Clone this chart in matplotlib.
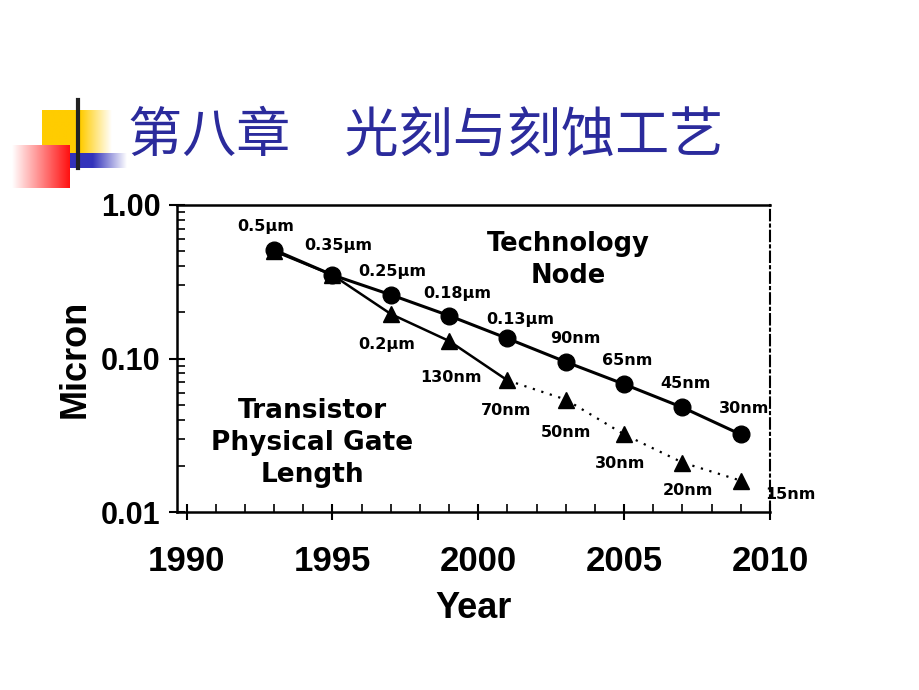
import matplotlib
matplotlib.use("Agg")
import matplotlib.pyplot as plt
import numpy as np
from matplotlib.ticker import FixedLocator, NullFormatter

years = [1993, 1995, 1997, 1999, 2001, 2003, 2005, 2007, 2009]
node_um = [0.51, 0.35, 0.26, 0.19, 0.135, 0.095, 0.068, 0.048, 0.032]
node_labels = ["0.5μm", "0.35μm", "0.25μm", "0.18μm", "0.13μm",
               "90nm", "65nm", "45nm", "30nm"]

gate_years = [1993, 1995, 1997, 1999, 2001, 2003, 2005, 2007, 2009]
gate_um = [0.5, 0.35, 0.195, 0.13, 0.072, 0.054, 0.032, 0.021, 0.016]
gate_labels = ["", "", "0.2μm", "130nm", "70nm", "50nm", "30nm", "20nm", "15nm"]

# label offsets in points (dx, dy)
node_off = [(-6, 17), (4, 21), (1, 17), (6, 16), (9, 14), (7, 17), (2, 17), (2, 17), (2, 19)]
gate_off = [(0, 0), (0, 0), (-3, -22), (1, -26), (-1, -22), (0, -24), (-3, -21), (4, -20), (36, -10)]

BLUE = "#2b2b9c"

fig = plt.figure(figsize=(9.2, 6.9), dpi=100)

# ---- decoration in pixel coordinates
deco = fig.add_axes([0, 0, 1, 1])
deco.axis("off")


def gradient(ax, x0, x1, y0, y1, c_solid, solid_side, solid_frac):
    n = 200
    t = np.linspace(0, 1, n)
    if solid_side == "right":
        t = t[::-1]
    a = np.clip((t - solid_frac) / (1 - solid_frac), 0, 1)
    rgb = np.array(matplotlib.colors.to_rgb(c_solid))
    img = rgb[None, :] * (1 - a[:, None]) + a[:, None]
    img = np.repeat(img[None, :, :], 2, axis=0)
    ax.imshow(img, extent=(x0, x1, y1, y0), aspect="auto", zorder=1)


gradient(deco, 42, 112, 110, 153, "#ffcc00", "left", 0.55)
gradient(deco, 12, 70, 145, 188, "#ff1010", "right", 0.0)
gradient(deco, 70, 127, 153, 168, "#3333bb", "left", 0.4)
deco.plot([78, 78], [100, 168], color="#222222", lw=3, zorder=3)
deco.set_xlim(0, 920)
deco.set_ylim(690, 0)

fig.text(128, 690 - 136, "第八章\u3000光刻与刻蚀工艺", transform=None,
         fontsize=39, color=BLUE, va="center", ha="left",
         family=["Noto Sans CJK SC", "DejaVu Sans"])

# ---- chart
ax = fig.add_axes([177 / 920, 178 / 690, 593 / 920, 307 / 690])
ax.set_yscale("log")
ax.set_ylim(0.01, 1.0)
ax.set_xlim(1989.67, 2010)

ax.plot(years, node_um, color="black", lw=2.2, marker="o", ms=12, zorder=3)
ax.plot(gate_years[:5], gate_um[:5], color="black", lw=1.8, zorder=2)
ax.plot(gate_years[4:], gate_um[4:], color="black", lw=1.6, ls=(0, (1, 3)), zorder=2)
ax.plot(gate_years, gate_um, ls="none", color="black", marker="^", ms=12, zorder=4)

lab_font = dict(fontsize=11.5, fontweight="bold", family="DejaVu Sans")
for x, y, t, (dx, dy) in zip(years, node_um, node_labels, node_off):
    ax.annotate(t, (x, y), xytext=(dx, dy), textcoords="offset points",
                ha="center", va="center", **lab_font)
for x, y, t, (dx, dy) in zip(gate_years, gate_um, gate_labels, gate_off):
    if t:
        ax.annotate(t, (x, y), xytext=(dx, dy), textcoords="offset points",
                    ha="center", va="center", annotation_clip=False, **lab_font)

ax.text(2003.1, 0.44, "Technology\nNode", ha="center", va="center",
        fontsize=18.5, fontweight="bold", family="DejaVu Sans", linespacing=1.3)
ax.text(1994.3, 0.028, "Transistor\nPhysical Gate\nLength", ha="center", va="center",
        fontsize=19, fontweight="bold", family="DejaVu Sans", linespacing=1.3)

# ticks
ax.xaxis.set_major_locator(FixedLocator([1990, 1995, 2000, 2005, 2010]))
ax.xaxis.set_minor_locator(FixedLocator(list(range(1991, 2010))))
ax.set_yticks([0.01, 0.1, 1.0])
ax.set_yticklabels(["0.01", "0.10", "1.00"])
ax.yaxis.set_minor_formatter(NullFormatter())
ax.tick_params(axis="both", which="major", direction="inout", length=12, width=1.5)
ax.tick_params(axis="y", which="major", labelsize=22, pad=6)
ax.tick_params(axis="x", which="major", labelsize=25, pad=18)
ax.tick_params(axis="both", which="minor", direction="in", length=6, width=1.2)
for lab in ax.get_yticklabels():
    lab.set_fontweight("bold")
    lab.set_family("Liberation Sans")
for lab in ax.get_xticklabels():
    lab.set_fontweight("bold")
    lab.set_family(["Liberation Sans Narrow", "Liberation Sans"])

for s in ["left", "bottom", "top"]:
    ax.spines[s].set_linewidth(1.8)
ax.spines["right"].set_linestyle((0, (5, 2, 1, 2)))
ax.spines["right"].set_linewidth(1.5)

ax.set_xlabel("Year", fontsize=26, fontweight="bold",
              family=["Liberation Sans Narrow", "Liberation Sans"], labelpad=9)
ax.set_ylabel("Micron", fontsize=26, fontweight="bold", family="Liberation Sans", labelpad=6)

fig.savefig("out.png", dpi=100)
